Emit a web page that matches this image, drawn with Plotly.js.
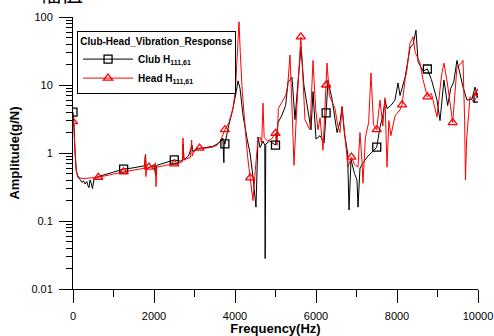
<!DOCTYPE html>
<html>
<head>
<meta charset="utf-8">
<script src="https://cdn.plot.ly/plotly-3.0.1.min.js"></script>
<style>
html,body{margin:0;padding:0;background:#fff;}
#chart{width:494px;height:336px;}
</style>
</head>
<body>
<div id="chart"></div>
<script>
// Club H111,61 (black, squares)
var clubFreq = [0, 25, 50, 80, 120, 173, 220, 260, 300, 340, 370, 395, 420, 450, 480, 520, 625, 800, 1000, 1250, 1450, 1650, 1770, 1790, 1810, 2000, 2040, 2070, 2250, 2500, 2650, 2700, 2720, 2740, 2850, 2940, 2960, 3062, 3250, 3450, 3600, 3700, 3725, 3735, 3750, 3850, 3950, 4030, 4074, 4123, 4200, 4300, 4370, 4444, 4518, 4568, 4620, 4690, 4735, 4745, 4760, 4850, 4920, 5000, 5062, 5150, 5250, 5309, 5407, 5481, 5560, 5630, 5700, 5800, 5877, 5926, 6000, 6100, 6200, 6250, 6296, 6400, 6519, 6600, 6642, 6700, 6780, 6815, 6864, 6950, 7012, 7037, 7086, 7150, 7259, 7400, 7500, 7580, 7650, 7704, 7753, 7850, 7950, 8025, 8074, 8200, 8321, 8400, 8469, 8520, 8642, 8750, 8850, 8988, 9062, 9160, 9250, 9330, 9400, 9481, 9520, 9630, 9728, 9850, 9926, 10000];
var clubAmp = [4.0, 2.6, 1.1, 0.55, 0.44, 0.41, 0.37, 0.39, 0.35, 0.38, 0.33, 0.31, 0.40, 0.36, 0.30, 0.42, 0.45, 0.48, 0.52, 0.58, 0.60, 0.63, 0.65, 0.95, 0.58, 0.67, 0.47, 0.66, 0.71, 0.79, 0.76, 0.78, 1.35, 0.80, 0.90, 1.30, 1.05, 1.15, 1.20, 1.25, 1.40, 1.65, 0.72, 1.50, 1.36, 2.6, 4.5, 8.0, 11.5, 9.0, 3.5, 1.6, 1.0, 0.45, 0.16, 1.72, 1.2, 1.5, 1.3, 0.028, 1.35, 1.5, 1.4, 1.31, 2.8, 3.5, 5.0, 11, 13, 3.1, 12, 36, 10, 4.0, 2.2, 8.0, 1.6, 1.8, 1.4, 3.9, 11.8, 6.0, 2.0, 3.0, 4.8, 2.0, 1.0, 0.145, 0.8, 0.5, 0.4, 0.16, 0.6, 0.7, 0.87, 1.05, 1.22, 2.4, 3.5, 6.0, 4.5, 5.0, 6.0, 10.7, 7.0, 13, 35, 40, 64, 22, 16, 17.2, 12, 6.0, 3.0, 11.8, 5.0, 9.0, 11, 23, 18, 9.3, 6.0, 6.2, 9.3, 6.4];

// Head H111,61 (red, triangles)
var headFreq = [0, 25, 50, 80, 120, 173, 250, 350, 450, 625, 800, 1000, 1250, 1450, 1650, 1760, 1785, 1800, 1820, 1875, 2000, 2035, 2050, 2070, 2200, 2350, 2500, 2650, 2700, 2716, 2735, 2800, 2900, 2930, 2945, 2970, 3050, 3125, 3300, 3450, 3555, 3650, 3750, 3850, 3950, 4010, 4060, 4099, 4130, 4180, 4250, 4310, 4375, 4444, 4500, 4568, 4620, 4660, 4691, 4720, 4800, 4900, 5000, 5040, 5070, 5150, 5250, 5300, 5358, 5410, 5457, 5520, 5580, 5625, 5680, 5728, 5800, 5852, 5926, 5990, 6049, 6100, 6173, 6220, 6250, 6272, 6330, 6400, 6469, 6540, 6593, 6642, 6700, 6790, 6875, 6950, 7037, 7086, 7136, 7160, 7220, 7300, 7358, 7420, 7500, 7580, 7650, 7704, 7753, 7800, 7850, 7950, 8074, 8125, 8200, 8247, 8321, 8395, 8450, 8494, 8560, 8642, 8750, 8850, 8988, 9100, 9160, 9250, 9375, 9481, 9560, 9630, 9670, 9690, 9720, 9802, 9900, 10000];
var headAmp = [2.9, 2.2, 1.0, 0.55, 0.46, 0.43, 0.42, 0.42, 0.43, 0.44, 0.46, 0.49, 0.53, 0.55, 0.58, 0.60, 0.90, 0.45, 0.60, 0.62, 0.63, 0.72, 0.32, 0.62, 0.65, 0.67, 0.69, 0.72, 0.74, 1.66, 0.78, 0.82, 0.86, 1.55, 0.90, 1.0, 1.12, 1.18, 1.18, 1.22, 1.30, 1.55, 2.2, 2.8, 4.5, 8.5, 25, 85, 30, 8.0, 2.4, 0.9, 0.43, 0.2, 0.55, 1.6, 1.7, 1.4, 5.4, 1.7, 1.5, 1.6, 1.95, 1.3, 4.5, 5.5, 7.0, 9.5, 27.6, 4.0, 0.66, 4.0, 18, 51, 12, 3.1, 2.5, 2.2, 23, 4.5, 2.2, 3.3, 1.1, 4.0, 10, 21, 7.0, 5.5, 4.5, 2.5, 2.0, 4.8, 2.1, 0.62, 0.87, 0.68, 0.62, 2.0, 0.75, 0.36, 1.7, 2.8, 15, 2.6, 2.2, 6.0, 2.5, 6.5, 0.62, 3.0, 1.8, 3.5, 4.3, 5.1, 12, 17, 41, 51, 30, 26, 22, 12, 6.7, 7.5, 3.4, 14, 21, 10, 2.8, 18.4, 20, 23, 3.0, 0.4, 1.6, 6.7, 5.5, 7.6];

var xTickVals = [0, 2000, 4000, 6000, 8000, 10000];
var xTickText = ['0', '2000', '4000', '6000', '8000', '10000'];
var yTickVals = [0.01, 0.1, 1, 10, 100];
var yTickText = ['0.01', '0.1', '1', '10', '100'];

var FONT = 'Liberation Sans, Arial, sans-serif';

// minor tick positions (axis decoration, not data)
var xMinor = [];
for (var k = 1000; k < 10000; k += 2000) xMinor.push(k);
var yMinor = [];
[0.01, 0.1, 1, 10].forEach(function (d) { for (var m = 2; m <= 9; m++) yMinor.push(+(d * m).toPrecision(3)); });

// marker-only series: every Nth-Hz sample, separated by gaps so no lines join them
function markerSeries(freqs, amps, step) {
  var mx = [], my = [];
  freqs.forEach(function (f, i) {
    if (f % step === 0) { mx.push(f, null); my.push(amps[i], null); }
  });
  return {x: mx, y: my};
}
var clubMk = markerSeries(clubFreq, clubAmp, 1250);
var headMk = markerSeries(headFreq, headAmp, 625);

var traces = [
  {x: clubFreq, y: clubAmp, type: 'scatter', mode: 'lines', showlegend: false,
   line: {color: '#000000', width: 1}},
  {x: headFreq, y: headAmp, type: 'scatter', mode: 'lines', showlegend: false,
   line: {color: '#ff0000', width: 1}},
  {x: clubMk.x, y: clubMk.y, type: 'scatter', mode: 'lines+markers', connectgaps: false,
   name: 'Club H<sub>111,61</sub>',
   line: {color: '#000000', width: 1},
   marker: {symbol: 'square-open', color: '#000000', size: 8, line: {width: 1.3, color: '#000000'}}},
  {x: headMk.x, y: headMk.y, type: 'scatter', mode: 'lines+markers', connectgaps: false,
   name: 'Head H<sub>111,61</sub>',
   line: {color: '#ff0000', width: 1},
   marker: {symbol: 'triangle-up-open', color: '#ff0000', size: 8, line: {width: 1.3, color: '#ff0000'}}}
];

var layout = {
  width: 494, height: 336,
  margin: {l: 73, r: 16, t: 17, b: 47, pad: 0},
  paper_bgcolor: '#ffffff', plot_bgcolor: '#ffffff',
  font: {family: FONT, size: 11, color: '#000000'},
  showlegend: true,
  legend: {
    x: 0.01, y: 0.95, xanchor: 'left', yanchor: 'top',
    bgcolor: '#ffffff', bordercolor: '#000000', borderwidth: 1,
    font: {family: FONT, size: 10, color: '#000000', weight: 'bold'},
    title: {text: 'Club-Head_Vibration_Response', side: 'top center',
            font: {family: FONT, size: 10, color: '#000000', weight: 'bold'}},
    itemwidth: 50, tracegroupgap: 0
  },
  xaxis: {
    range: [0, 10000], showgrid: false, zeroline: false,
    showline: true, linecolor: '#000000', linewidth: 1, mirror: false,
    tickmode: 'array', tickvals: xTickVals, ticktext: xTickText,
    ticks: 'outside', ticklen: 13, tickwidth: 1, tickcolor: '#000000',
    ticklabelstandoff: 4,
    minor: {tickmode: 'array', tickvals: xMinor, ticks: 'outside', ticklen: 7, tickwidth: 1, tickcolor: '#000000', showgrid: false},
    tickfont: {family: FONT, size: 11},
    title: {text: 'Frequency(Hz)', standoff: 0, font: {family: FONT, size: 13, weight: 'bold'}}
  },
  yaxis: {
    type: 'log', range: [-2, 2], showgrid: false, zeroline: false,
    showline: true, linecolor: '#000000', linewidth: 1, mirror: false,
    tickmode: 'array', tickvals: yTickVals, ticktext: yTickText,
    ticks: 'outside', ticklen: 13, tickwidth: 1, tickcolor: '#000000',
    ticklabelstandoff: 4,
    minor: {tickmode: 'array', tickvals: yMinor, ticks: 'outside', ticklen: 6, tickwidth: 1, tickcolor: '#000000', showgrid: false},
    tickfont: {family: FONT, size: 11},
    title: {text: 'Amplitude(g/N)', standoff: 8, font: {family: FONT, size: 13, weight: 'bold'}}
  },
  annotations: [{
    text: '幅值', xref: 'paper', yref: 'paper', x: -0.03, y: 1.03,
    xanchor: 'center', yanchor: 'bottom', showarrow: false,
    font: {family: 'Noto Sans CJK SC', size: 22, color: '#000000'}
  }]
};

Plotly.newPlot('chart', traces, layout, {staticPlot: true, displayModeBar: false});
</script>
</body>
</html>
